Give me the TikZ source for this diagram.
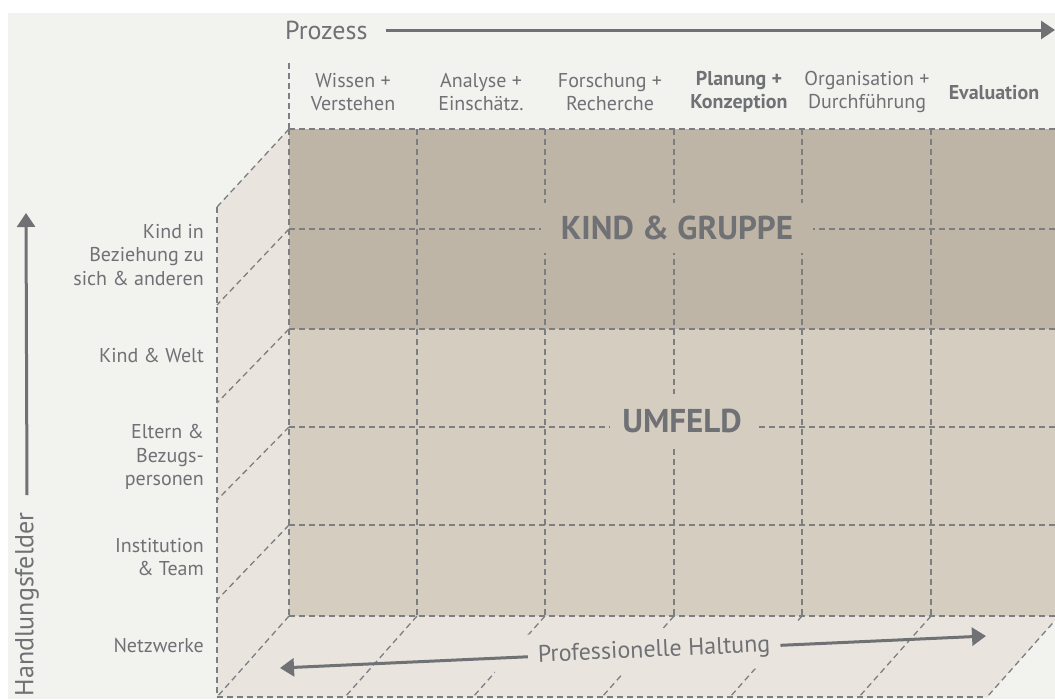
\documentclass[tikz,border=0pt]{standalone}
\usepackage{fontspec}
\setmainfont{PT Sans}
\usetikzlibrary{arrows.meta}
\definecolor{bgc}{HTML}{F2F2EE}
\definecolor{facec}{HTML}{E9E5DE}
\definecolor{frontl}{HTML}{D5CDC0}
\definecolor{frontd}{HTML}{BFB5A6}
\definecolor{dashc}{HTML}{7C7E81}
\definecolor{txtc}{HTML}{6F7175}
\tikzset{
  dsh/.style={draw=dashc, line width=1.3pt, dash pattern=on 6pt off 4pt},
  axisline/.style={draw=txtc, line width=3pt, -{Triangle[length=14pt,width=18pt]}},
  lbl/.style={text=txtc, font=\fontsize{20}{23.5}\selectfont, align=center, inner sep=0pt},
  rlbl/.style={lbl, align=right, anchor=east},
  biglbl/.style={text=txtc, font=\fontsize{33}{40}\selectfont\bfseries, inner sep=0pt},
  axlbl/.style={text=txtc, font=\fontsize{26}{30}\selectfont},
}
\begin{document}
\begin{tikzpicture}[x=1pt,y=-1pt]
\useasboundingbox (0,0) rectangle (1055,699);
\fill[white] (0,0) rectangle (1055,699);
\fill[bgc] (8,13) rectangle (1055,699);
% side and bottom faces
\fill[facec] (289,129) -- (217,207) -- (217,697) -- (289,616) -- cycle;
\fill[facec] (289,616) -- (1059,616) -- (987,697) -- (217,697) -- cycle;
% front face
\fill[frontd] (289,129) rectangle (1059,329);
\fill[frontl] (289,329) rectangle (1059,616);
% grid lines front
\foreach \y in {129,229,329,427,525,616} \draw[dsh] (289,\y) -- (1059,\y);
\foreach \x in {289,417,545,674,802,931} \draw[dsh] (\x,129) -- (\x,616);
\draw[dsh] (289,63) -- (289,129);
% side diagonals
\foreach \y/\yb in {129/207,229/305,329/403,427/500,525/600,616/697} \draw[dsh] (289,\y) -- (217,\yb);
\draw[dsh] (217,207) -- (217,697);
% bottom diagonals
\foreach \x in {417,545,674,802,931,1059} \draw[dsh] (\x,616) -- ({\x-72},697);
\draw[dsh] (217,697) -- (987,697);
% big labels
\node[biglbl, fill=frontd, minimum width=272pt, minimum height=50pt] (kg) at (677,228) {KIND \& GRUPPE};
\node[biglbl, fill=frontl, minimum width=145pt, minimum height=54pt] (um) at (682,421) {UMFELD};
% column labels
\node[lbl] (c1) at (353,92) {Wissen +\\Verstehen};
\node[lbl] (c2) at (481,92) {Analyse +\\Einschätz.};
\node[lbl] (c3) at (610,92) {Forschung +\\Recherche};
\node[lbl, font=\fontsize{20}{23.5}\selectfont\bfseries] (c4) at (739,92) {Planung +\\Konzeption};
\node[lbl] (c5) at (867,92) {Organisation +\\Durchführung};
\node[lbl, font=\fontsize{20}{23.5}\selectfont\bfseries] (c6) at (994,93) {Evaluation};
% row labels
\node[rlbl] (r1) at (204,255) {Kind in\\Beziehung zu\\sich \& anderen};
\node[rlbl] (r2) at (204,355) {Kind \& Welt};
\node[rlbl] (r3) at (204,457) {Eltern \&\\Bezugs-\\personen};
\node[rlbl] (r4) at (204,557) {Institution\\\& Team};
\node[rlbl] (r5) at (204,646) {Netzwerke};
% Prozess axis
\node[axlbl, anchor=west, inner xsep=0pt, inner ysep=0pt] (pz) at (285,30) {Prozess};
\coordinate (pzend) at (1055,30);
\draw[axisline] ([xshift=18pt]pz.east) -- (pzend);
% Handlungsfelder axis
\node[axlbl, rotate=90, anchor=east, inner xsep=0pt, inner ysep=0pt] (hf) at (27,512) {Handlungsfelder};
\coordinate (hfend) at (26,213);
\draw[axisline] ([yshift=17pt]hf.east) -- (hfend);
% Professionelle Haltung
\coordinate (pl) at (280,668);
\coordinate (pr) at (986,636);
\path (pl) -- (pr) node[pos=0.53, sloped, fill=facec, minimum width=320pt, minimum height=44pt, inner sep=0pt] (phbox) {};
\path (pl) -- (pr) node[pos=0.53, sloped, axlbl, font=\fontsize{24}{28}\selectfont, inner xsep=10pt, inner ysep=0pt] (ph) {Professionelle Haltung};
\draw[axisline] (ph.west) -- (pl);
\draw[axisline] (ph.east) -- (pr);
\end{tikzpicture}
\end{document}
